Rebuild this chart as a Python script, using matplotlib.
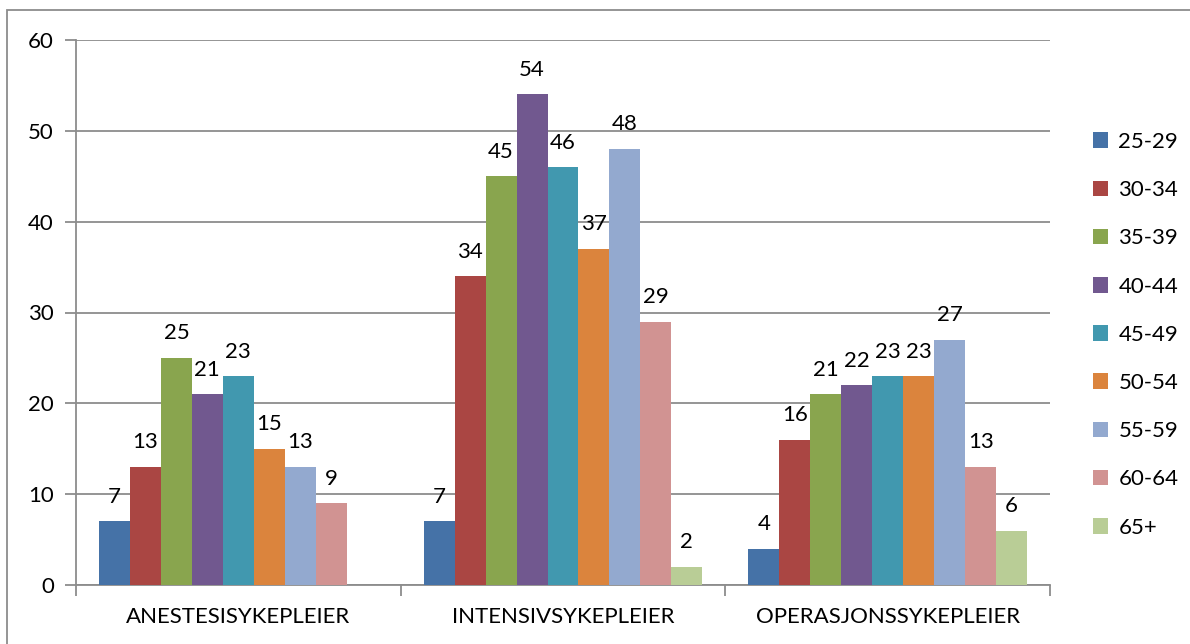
import numpy as np
import matplotlib.pyplot as plt
from matplotlib.patches import Rectangle

plt.rcParams['font.family'] = ['Lato', 'DejaVu Sans']

categories = ['ANESTESISYKEPLEIER', 'INTENSIVSYKEPLEIER', 'OPERASJONSSYKEPLEIER']
age_groups = ['25-29', '30-34', '35-39', '40-44', '45-49', '50-54', '55-59', '60-64', '65+']
# verdier per aldersgruppe, en liste per kategori
anestesi = [7, 13, 25, 21, 23, 15, 13, 9, np.nan]
intensiv = [7, 34, 45, 54, 46, 37, 48, 29, 2]
operasjon = [4, 16, 21, 22, 23, 23, 27, 13, 6]
colors = ['#4572A7', '#AA4643', '#89A54E', '#71588F', '#4198AF',
          '#DB843D', '#93A9CF', '#D19392', '#B9CD96']

values = np.array([anestesi, intensiv, operasjon])
fs = 16

fig = plt.figure(figsize=(11.9, 6.44), dpi=100)
ax = fig.add_axes([76/1190, 1 - 585/644, (1050 - 76)/1190, (585 - 40)/644])

width = 0.0954
n = len(age_groups)
x = np.arange(len(categories))
for i, grp in enumerate(age_groups):
    pos = x - width * n / 2 + width * (i + 0.5)
    ax.bar(pos, values[:, i], width, color=colors[i], label=grp, zorder=3)
    for p, v in zip(pos, values[:, i]):
        if not np.isnan(v):
            ax.annotate(f'{int(v)}', (p, v), xytext=(0, 10.5), textcoords='offset points',
                        ha='center', va='bottom', fontsize=fs, zorder=4)

ax.set_xlim(-0.5, 2.5)
ax.set_ylim(0, 60)
ax.set_yticks(range(0, 61, 10))
ax.yaxis.grid(True, color='#8c8c8c', lw=1.3, zorder=0)
ax.set_xticks(x)
ax.set_xticklabels(categories)
ax.set_xticks([-0.5, 0.5, 1.5, 2.5], minor=True)
ax.tick_params(axis='x', which='major', length=0, pad=16, labelsize=fs)
ax.tick_params(axis='x', which='minor', length=8, width=1.3, color='#8c8c8c')
ax.tick_params(axis='y', length=8, width=1.3, color='#8c8c8c', labelsize=fs, pad=8)
for s in ['top', 'right']:
    ax.spines[s].set_visible(False)
for s in ['left', 'bottom']:
    ax.spines[s].set_color('#8c8c8c')
    ax.spines[s].set_linewidth(1.3)

ax.legend(loc='upper left', bbox_to_anchor=(1084/1190, 1 - 123/644),
          bbox_transform=fig.transFigure, frameon=False, fontsize=fs,
          handlelength=0.7, handleheight=0.7, handletextpad=0.45,
          labelspacing=1.27, borderaxespad=0)

# ramme rundt figuren
fig.patches.append(Rectangle((7/1190, -0.1), 1.2, 1 - 10/644 + 0.1, transform=fig.transFigure,
                             fill=False, edgecolor='#8c8c8c', lw=1.3))

fig.savefig('out.png', dpi=100)
